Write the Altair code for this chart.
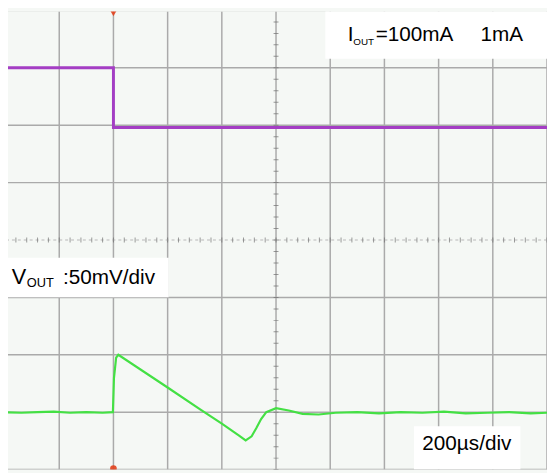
import altair as alt
import pandas as pd

# Oscilloscope capture: time in µs (200 µs/div, 10 div), vertical in divisions (8 div)
iout_t = [0, 400, 400, 2000]
iout_div = [7.0, 7.0, 5.96, 5.96]

vout_t = [0, 60, 120, 180, 240, 300, 360, 398, 402, 410, 418, 600, 720, 800, 861, 888,
          910, 927, 945, 964, 1000, 1047, 1098, 1157, 1220, 1300, 1380, 1460, 1540,
          1620, 1700, 1780, 1860, 1940, 2000]
vout_div = [1.00, 0.99, 1.00, 1.01, 0.99, 1.00, 0.99, 1.00, 1.60, 1.95, 2.00, 1.43, 1.05,
            0.80, 0.60, 0.51, 0.58, 0.72, 0.88, 1.00, 1.07, 1.03, 0.97, 0.96, 0.99,
            1.00, 0.98, 1.00, 0.99, 1.01, 0.98, 0.99, 1.00, 0.98, 0.99]

grid_t = [0, 200, 400, 600, 800, 1000, 1200, 1400, 1600, 1800, 2000]
grid_div = [0, 1, 2, 3, 5, 6, 7, 8]
center_t = 1000
center_div = 4
minor_t = [i * 40 for i in range(51)]
minor_div = [i * 0.2 for i in range(41)]

trigger_t = [400, 400]
trigger_div = [7.95, 0.02]
trigger_shape = ["triangle-down", "circle"]

# annotation boxes (t1, t2, d1, d2)
boxes = pd.DataFrame({
    "t1": [1182, -20, 1509],
    "t2": [2000, 604, 1902],
    "d1": [7.159, 3.004, 0.0],
    "d2": [8.0, 3.691, 0.755],
})
labels = pd.DataFrame({
    "t": [1265, 1285, 1368, 1755, 25, 80, 214, 1540],
    "d": [7.468, 7.40, 7.468, 7.468, 3.227, 3.176, 3.227, 0.343],
    "text": ["I", "OUT", "=100mA", "1mA", "V", "OUT", ":50mV/div", "200µs/div"],
    "size": [21, 10, 21, 21, 22, 13, 21, 21],
})

xs = alt.Scale(domain=[10.9, 2000], nice=False, zero=False)
ys = alt.Scale(domain=[0, 7.983], nice=False, zero=False)

def X(f):
    return alt.X(f, type="quantitative", scale=xs, axis=None)

def Y(f):
    return alt.Y(f, type="quantitative", scale=ys, axis=None)

vgrid = alt.Chart(pd.DataFrame({"t": grid_t})).mark_rule(
    color="#aaaaaa", strokeWidth=1.5, clip=True).encode(x=X("t"))
hgrid = alt.Chart(pd.DataFrame({"d": grid_div})).mark_rule(
    color="#aaaaaa", strokeWidth=1.5, clip=True).encode(y=Y("d"))
hcenter = alt.Chart(pd.DataFrame({"d": [center_div]})).mark_rule(
    color="#b8b8b8", strokeWidth=1, strokeDash=[3, 3], clip=True).encode(y=Y("d"))
vticks = alt.Chart(pd.DataFrame({"t": minor_t, "d": [center_div] * len(minor_t)})).mark_tick(
    color="#707070", orient="vertical", size=5, thickness=1, clip=True).encode(x=X("t"), y=Y("d"))
hticks = alt.Chart(pd.DataFrame({"t": [center_t] * len(minor_div), "d": minor_div})).mark_tick(
    color="#707070", orient="horizontal", size=5, thickness=1, clip=True).encode(x=X("t"), y=Y("d"))

iout = alt.Chart(pd.DataFrame({"t": iout_t, "d": iout_div, "o": list(range(4))})).mark_line(
    color="#a43ec4", strokeWidth=3, clip=True).encode(x=X("t"), y=Y("d"), order="o:Q")
vout = alt.Chart(pd.DataFrame({"t": vout_t, "d": vout_div})).mark_line(
    color="#44e044", strokeWidth=2.2, clip=True).encode(x=X("t"), y=Y("d"))

trig = alt.Chart(pd.DataFrame({"t": trigger_t, "d": trigger_div, "s": trigger_shape})).mark_point(
    filled=True, color="#e2401c", size=45, opacity=0.9, clip=True).encode(
    x=X("t"), y=Y("d"), shape=alt.Shape("s:N", scale=None))

rects = alt.Chart(boxes).mark_rect(color="white", clip=True).encode(
    x=X("t1"), x2="t2", y=Y("d1"), y2="d2")
texts = alt.Chart(labels).mark_text(
    align="left", baseline="alphabetic", font="Liberation Sans", color="black").encode(
    x=X("t"), y=Y("d"), text="text:N", size=alt.Size("size:Q", scale=None))

chart = alt.layer(vgrid, hgrid, hcenter, vticks, hticks, iout, vout, trig, rects, texts).properties(
    width=547, height=465, padding=0, background="#f5f8f5"
).configure_view(stroke=None, fill="#f5f8f5")

chart.save("out.html", embed_options={"renderer": "svg", "actions": False})
